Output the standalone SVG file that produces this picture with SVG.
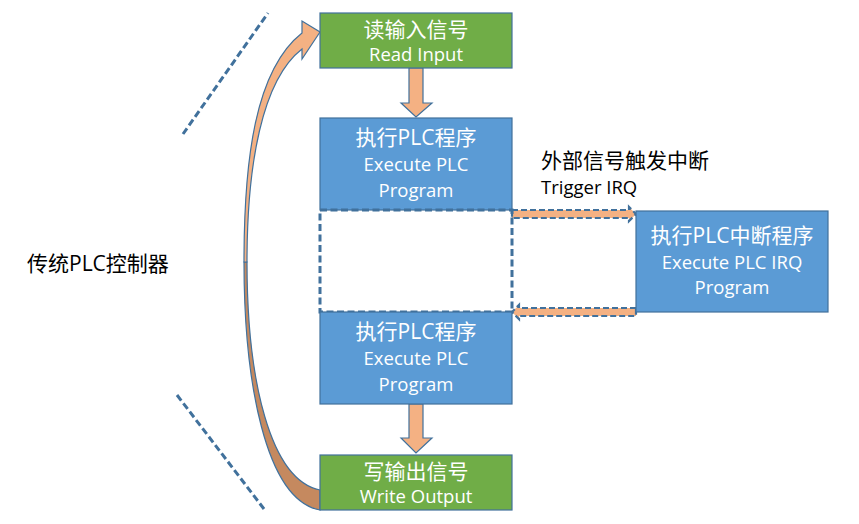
<svg xmlns="http://www.w3.org/2000/svg" width="859" height="524" viewBox="0 0 859 524">
<style>
.green{fill:#70AD47;stroke:#41719C;stroke-width:1.2}
.blue{fill:#5B9BD5;stroke:#41719C;stroke-width:1.2}
.dash{fill:none;stroke:#41719C;stroke-width:3;stroke-dasharray:7 3.5}
.blk{fill:#F4B183;stroke:#41719C;stroke-width:1.2}
.dblk{fill:#F4B183;stroke:#41719C;stroke-width:2.2;stroke-dasharray:6 3}
text{font-family:"Open Sans","Noto Sans CJK SC",sans-serif}
.w{fill:#fff;text-anchor:middle}
.zh{font-size:21px}
.en{font-size:18.5px}
.k{fill:#000}
</style>
<rect width="859" height="524" fill="#fff"/>
<g id="bracket">
<line class="dash" x1="183" y1="134" x2="268" y2="13"/>
<line class="dash" x1="177" y1="395" x2="264" y2="509"/>
<text class="k zh" x="27" y="271">传统PLC控制器</text>
</g>
<g id="connectors">
<path d="M244,262 C244,380 265,500 320,510 L320,490 C270,480 247,380 247,262 Z" fill="#C5895F" stroke="#41719C" stroke-width="1.2"/>
<path d="M244,262 C244,160 255,70 302,33 L302,21 L320,32 L302,59 L302,49 C262,80 247,165 247,262 Z" class="blk"/>
<polygon class="blk" points="409,68 423,68 423,103 432,103 416,117 401,103 409,103"/>
<polygon class="blk" points="409,404 423,404 423,438 432,438 416,453 401,438 409,438"/>
<polygon class="dblk" points="512,210 629,210 629,207 636,214 629,221 629,218 512,218"/>
<polygon class="dblk" points="636,308 519,308 519,305 512,312 519,319 519,316 636,316"/>
<text class="k zh" x="541" y="168">外部信号触发中断</text>
<text class="k en" x="541" y="194">Trigger IRQ</text>
</g>
<g id="read">
<rect class="green" x="320" y="13" width="192" height="55"/>
<text class="w zh" x="416" y="37">读输入信号</text>
<text class="w en" x="416" y="61">Read Input</text>
</g>
<g id="exec1">
<rect class="blue" x="320" y="118" width="192" height="92"/>
<text class="w zh" x="416" y="145">执行PLC程序</text>
<text class="w en" x="416" y="171">Execute PLC</text>
<text class="w en" x="416" y="197">Program</text>
</g>
<g id="gap">
<rect x="320" y="210" width="192" height="102" fill="#fff" class="dash"/>
</g>
<g id="exec2">
<rect class="blue" x="320" y="312" width="192" height="92"/>
<text class="w zh" x="416" y="339">执行PLC程序</text>
<text class="w en" x="416" y="365">Execute PLC</text>
<text class="w en" x="416" y="391">Program</text>
</g>
<g id="write">
<rect class="green" x="320" y="455" width="192" height="55"/>
<text class="w zh" x="416" y="479">写输出信号</text>
<text class="w en" x="416" y="503">Write Output</text>
</g>
<g id="irq">
<rect class="blue" x="636" y="211" width="192" height="101"/>
<text class="w zh" x="732" y="243">执行PLC中断程序</text>
<text class="w en" x="732" y="269">Execute PLC IRQ</text>
<text class="w en" x="732" y="294">Program</text>
</g>
</svg>
